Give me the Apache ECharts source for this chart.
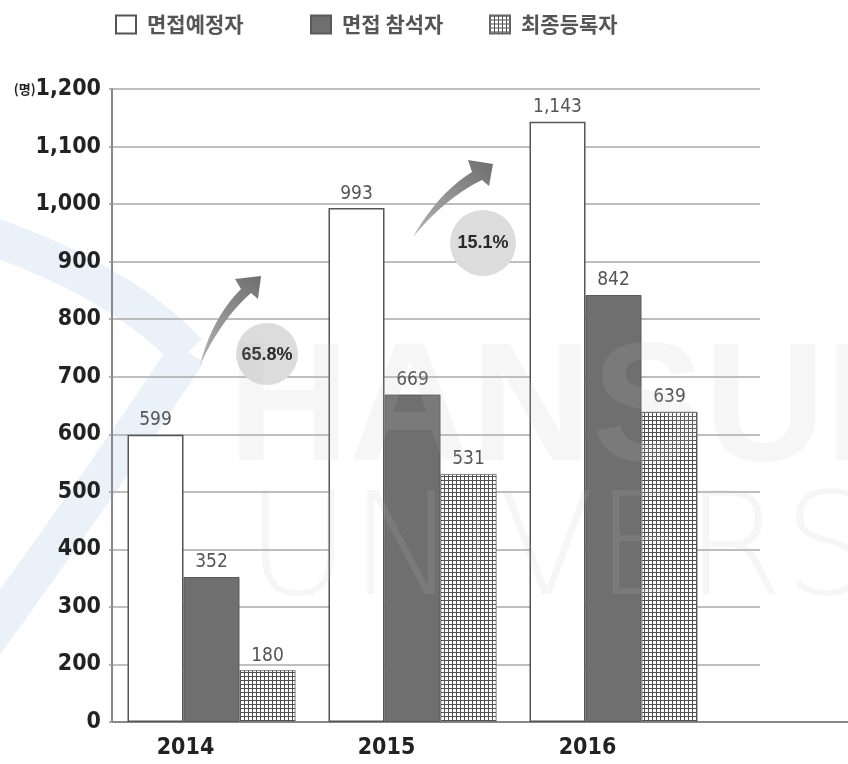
<!DOCTYPE html>
<html>
<head>
<meta charset="UTF-8">
<title>면접 현황</title>
<style>
    *{margin:0;padding:0;}
    html,body{background:#fff;}
    .container{width:848px;height:764px;}
</style>
<script src="https://cdn.jsdelivr.net/npm/echarts@6/dist/echarts.min.js"></script>
</head>
<body>
<div class="container"></div>
<script>
    let years=['2014','2015','2016']
    let names=['면접예정자','면접 참석자','최종등록자']
    let planned=[599,993,1143]
    let attended=[352,669,842]
    let registered=[180,531,639]
    let growth=['65.8%','15.1%']
    // the axis is broken: 0 -> 200 takes one step, then 100 per step
    let yTicks=[0,200,300,400,500,600,700,800,900,1000,1100,1200]

    let raw=[planned,attended,registered]
    let toAxis=v=>v<=200?v/2:v-100
    let fmt=v=>v.toLocaleString('en-US')

    let narrow="'Liberation Sans Narrow','DejaVu Sans Condensed',sans-serif"
    let kr="'Noto Sans CJK KR',sans-serif"

    // grid pattern for the last series
    let hatch=document.createElement('canvas')
    hatch.width=4;hatch.height=4
    let c=hatch.getContext('2d')
    c.fillStyle='#fff';c.fillRect(0,0,4,4)
    c.fillStyle='#505050';c.fillRect(0,0,4,1);c.fillRect(0,0,1,4)

    let styles=[
        {color:'#fff',borderColor:'#555',borderWidth:1.5},
        {color:'#6f6f6f',borderColor:'#5a5a5a',borderWidth:1},
        {color:{image:hatch,repeat:'repeat'},borderColor:'#666',borderWidth:0.8}
    ]

    // points along a quadratic curve, for the arrow outlines
    function quad(p0,cp,p1){
        let pts=[]
        for(let t=0;t<=1.0001;t+=0.1){
            let a=(1-t)*(1-t),b=2*(1-t)*t,d=t*t
            pts.push([a*p0[0]+b*cp[0]+d*p1[0],a*p0[1]+b*cp[1]+d*p1[1]])
        }
        return pts
    }
    function arrow(tail,outerCp,outerEnd,headL,tip,headR,innerStart,innerCp){
        return quad(tail,outerCp,outerEnd).concat([headL,tip,headR]).concat(quad(innerStart,innerCp,tail))
    }

    let container=document.querySelector('.container')
    let mychart=echarts.init(container)

    let series=names.map((name,i)=>({
        name,
        type:'bar',
        xAxisIndex:0,
        yAxisIndex:0,
        barWidth:56,
        barGap:'0%',
        itemStyle:styles[i],
        label:{
            show:true,
            position:'top',
            distance:5,
            color:'#555',
            fontSize:19,
            fontFamily:narrow,
            formatter:p=>fmt(raw[i][p.dataIndex])
        },
        data:raw[i].map(toAxis)
    }))

    let legendAt=[110,305,484]
    let legend=names.map((n,i)=>({
        left:legendAt[i],
        top:9,
        data:[n],
        icon:'rect',
        itemWidth:20,
        itemHeight:18,
        selectedMode:false,
        textStyle:{fontSize:21,fontWeight:'bold',color:'#555',fontFamily:kr,padding:[0,0,0,6]}
    }))

    let yBase={type:'value',min:0,max:1100,interval:100}
    let arrowFill=new echarts.graphic.LinearGradient(0,1,1,0,[
        {offset:0,color:'#b4b4b4'},{offset:1,color:'#6e6e6e'}
    ])

    let option={
        backgroundColor:'#fff',
        animation:false,
        legend,
        grid:[
            {left:111,right:134,top:89,bottom:42},
            {left:112,right:88,top:89,bottom:42},
            {left:112,right:0,top:89,bottom:42}
        ],
        xAxis:[
            {
                type:'category',gridIndex:0,data:years,
                axisLine:{show:false},axisTick:{show:false},
                axisLabel:{
                    margin:15,fontSize:23,fontWeight:'bold',color:'#222',
                    fontFamily:narrow,padding:[0,52,0,0]
                }
            },
            {type:'category',gridIndex:1,data:years,show:false},
            {
                type:'value',gridIndex:2,min:0,max:1,
                axisLine:{show:true,lineStyle:{color:'#888',width:2}},
                axisTick:{show:false},axisLabel:{show:false},splitLine:{show:false}
            }
        ],
        yAxis:[
            Object.assign({gridIndex:0,show:false},yBase),
            Object.assign({
                gridIndex:1,
                axisLine:{show:true,lineStyle:{color:'#888',width:2}},
                axisTick:{show:true,length:3,lineStyle:{color:'#999',width:1.5}},
                splitLine:{show:true,lineStyle:{color:'#a8a8a8',width:1.5}},
                axisLabel:{
                    margin:11,fontSize:23,fontWeight:'bold',color:'#222',fontFamily:narrow,
                    formatter:(v,i)=>i==yTicks.length-1?'{u|(명)}'+fmt(yTicks[i]):fmt(yTicks[i]),
                    rich:{u:{fontSize:13,fontWeight:'bold',color:'#222',fontFamily:kr}}
                }
            },yBase),
            Object.assign({gridIndex:2,show:false},yBase)
        ],
        graphic:[
            // faint logo watermark
            {type:'bezierCurve',z:-10,silent:true,shape:{x1:-20,y1:232,cpx1:120,cpy1:280,x2:188,y2:352},
                style:{fill:null,stroke:'#eaf1f9',lineWidth:38}},
            {type:'bezierCurve',z:-10,silent:true,shape:{x1:188,y1:352,cpx1:110,cpy1:470,x2:-20,y2:650},
                style:{fill:null,stroke:'#eaf1f9',lineWidth:38}},
            {type:'text',z:100,left:228,top:330,silent:true,
                style:{text:'HANSUNG',fontSize:168,fontWeight:'bold',fontFamily:"'Liberation Sans',sans-serif",
                    fill:'rgba(190,190,190,0.14)'}},
            {type:'text',z:100,left:246,top:486,silent:true,
                style:{text:'UNIVERSITY',fontSize:142,fontWeight:200,fontFamily:"'DejaVu Sans',sans-serif",
                    fill:'rgba(190,190,190,0.14)'}},
            // growth arrows and bubbles
            {type:'polygon',z:50,shape:{points:arrow([200,365],[212,318],[241,289],[235,279],[261,276],[258,299],[251,293],[222,318])},
                style:{fill:arrowFill}},
            {type:'circle',z:50,shape:{cx:267,cy:354,r:31},style:{fill:'#dcdcdc'}},
            {type:'text',z:51,x:267,y:355,style:{text:growth[0],fontSize:18,fontWeight:'bold',fill:'#2a2a2a',
                fontFamily:"'Liberation Sans',sans-serif",align:'center',verticalAlign:'middle'}},
            {type:'polygon',z:50,shape:{points:arrow([413,237],[438,193],[472,172],[468,160],[493,164],[489,186],[482,180],[445,198])},
                style:{fill:arrowFill}},
            {type:'circle',z:50,shape:{cx:483,cy:243,r:33},style:{fill:'#dcdcdc'}},
            {type:'text',z:51,x:483,y:243,style:{text:growth[1],fontSize:18,fontWeight:'bold',fill:'#2a2a2a',
                fontFamily:"'Liberation Sans',sans-serif",align:'center',verticalAlign:'middle'}}
        ],
        series
    }
    mychart.setOption(option)
</script>
</body>
</html>
